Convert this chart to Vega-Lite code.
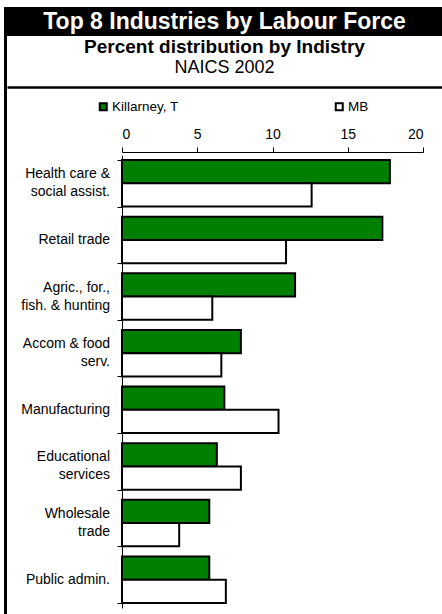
{
  "$schema": "https://vega.github.io/schema/vega-lite/v6.json",
  "padding": {"left": 4, "top": 7, "right": 0, "bottom": 0},
  "background": "white",
  "config": {"font": "Liberation Sans", "view": {"stroke": null}},
  "spacing": 0,
  "datasets": {
    "labour": [
      {"industry": "Health care &\nsocial assist.", "region": "Killarney, T", "value": 17.8},
      {"industry": "Health care &\nsocial assist.", "region": "MB", "value": 12.6},
      {"industry": "Retail trade", "region": "Killarney, T", "value": 17.3},
      {"industry": "Retail trade", "region": "MB", "value": 10.9},
      {"industry": "Agric., for.,\nfish. & hunting", "region": "Killarney, T", "value": 11.5},
      {"industry": "Agric., for.,\nfish. & hunting", "region": "MB", "value": 6.0},
      {"industry": "Accom & food\nserv.", "region": "Killarney, T", "value": 7.9},
      {"industry": "Accom & food\nserv.", "region": "MB", "value": 6.6},
      {"industry": "Manufacturing", "region": "Killarney, T", "value": 6.8},
      {"industry": "Manufacturing", "region": "MB", "value": 10.4},
      {"industry": "Educational\nservices", "region": "Killarney, T", "value": 6.3},
      {"industry": "Educational\nservices", "region": "MB", "value": 7.9},
      {"industry": "Wholesale\ntrade", "region": "Killarney, T", "value": 5.8},
      {"industry": "Wholesale\ntrade", "region": "MB", "value": 3.8},
      {"industry": "Public admin.", "region": "Killarney, T", "value": 5.8},
      {"industry": "Public admin.", "region": "MB", "value": 6.9}
    ]
  },
  "resolve": {"scale": {"color": "independent"}, "legend": {"color": "independent"}},
  "hconcat": [
    {
      "width": 3,
      "height": 607,
      "view": {"fill": "black", "stroke": null},
      "data": {"values": [{"t": ""}]},
      "mark": {"type": "text"},
      "encoding": {"text": {"field": "t"}}
    },
    {
      "spacing": 0,
      "resolve": {"scale": {"color": "independent"}, "legend": {"color": "independent"}},
      "vconcat": [
        {
          "width": 435,
          "height": 29,
          "view": {"fill": "black", "stroke": null},
          "data": {"values": [{"t": "Top 8 Industries by Labour Force"}]},
          "mark": {"type": "text", "color": "white", "fontWeight": "bold", "fontSize": 23},
          "encoding": {"text": {"field": "t"}}
        },
        {
          "width": 435,
          "height": 42,
          "data": {"values": [
            {"t": "Percent distribution by Indistry", "row": "a", "c": 0},
            {"t": "NAICS 2002", "row": "b", "c": 0}
          ]},
          "encoding": {
            "x": {"field": "c", "type": "quantitative", "scale": {"domain": [-1, 1]},
                  "axis": {"orient": "bottom", "ticks": false, "labels": false, "grid": false, "title": null,
                           "domainColor": "black", "domainWidth": 2.5, "offset": 9}},
            "y": {"field": "row", "type": "nominal", "scale": {"domain": ["a", "b"]}, "axis": null},
            "text": {"field": "t"}
          },
          "layer": [
            {"transform": [{"filter": "datum.row == 'a'"}],
             "mark": {"type": "text", "fontWeight": "bold", "fontSize": 19, "color": "black"}},
            {"transform": [{"filter": "datum.row == 'b'"}],
             "mark": {"type": "text", "fontWeight": "normal", "fontSize": 18, "color": "black"}}
          ]
        },
        {
          "spacing": 0,
          "bounds": "flush",
          "resolve": {"scale": {"color": "independent"}, "legend": {"color": "independent"}},
          "hconcat": [
            {
              "width": 115,
              "height": 453,
              "data": {"name": "labour"},
              "transform": [{"filter": "datum.region == 'Killarney, T'"}],
              "encoding": {
                "y": {"field": "industry", "type": "nominal",
                      "scale": {"domain": ["Health care &\nsocial assist.", "Retail trade", "Agric., for.,\nfish. & hunting", "Accom & food\nserv.", "Manufacturing", "Educational\nservices", "Wholesale\ntrade", "Public admin."]},
                      "axis": null},
                "x": {"datum": 1, "type": "quantitative", "scale": {"domain": [0, 1]}, "axis": null},
                "text": {"field": "industry"}
              },
              "layer": [
                {"transform": [{"filter": "indexof(datum.industry, '\\n') < 0"}],
                 "mark": {"type": "text", "align": "right", "baseline": "middle", "dx": -12,
                          "fontSize": 14, "color": "black", "lineBreak": "\n", "lineHeight": 18}},
                {"transform": [{"filter": "indexof(datum.industry, '\\n') >= 0"}],
                 "mark": {"type": "text", "align": "right", "baseline": "middle", "dx": -12, "dy": -9,
                          "fontSize": 14, "color": "black", "lineBreak": "\n", "lineHeight": 18}}
              ]
            },
            {
              "width": 301,
              "height": 453,
              "data": {"name": "labour"},
              "mark": {"type": "bar", "stroke": "black", "strokeWidth": 2},
              "encoding": {
                "y": {
                  "field": "industry", "type": "nominal", "sort": null,
                  "scale": {"paddingInner": 0.18, "paddingOuter": 0.09},
                  "axis": {
                    "title": null, "labels": false,
                    "tickBand": "extent", "tickSize": 5, "tickColor": "black",
                    "domainColor": "black"
                  }
                },
                "yOffset": {"field": "region", "type": "nominal", "sort": ["Killarney, T", "MB"]},
                "x": {
                  "field": "value", "type": "quantitative",
                  "scale": {"domain": [0, 20]},
                  "axis": {
                    "orient": "top", "title": null, "values": [0, 5, 10, 15, 20], "grid": false,
                    "labelFontSize": 14, "labelColor": "black", "tickColor": "black", "domainColor": "black",
                    "tickSize": 5, "labelPadding": 6, "offset": 3
                  }
                },
                "color": {
                  "field": "region", "type": "nominal",
                  "scale": {"domain": ["Killarney, T", "MB"], "range": ["#008000", "#ffffff"]},
                  "legend": {
                    "title": null, "orient": "none", "direction": "horizontal",
                    "legendX": -37.5, "legendY": -67.5, "padding": 12,
                    "symbolType": "square", "symbolSize": 49, "symbolStrokeColor": "black", "symbolStrokeWidth": 2,
                    "labelFontSize": 13.5, "labelColor": "black", "columnPadding": 152, "labelOffset": 2
                  }
                }
              }
            }
          ]
        }
      ]
    }
  ]
}
